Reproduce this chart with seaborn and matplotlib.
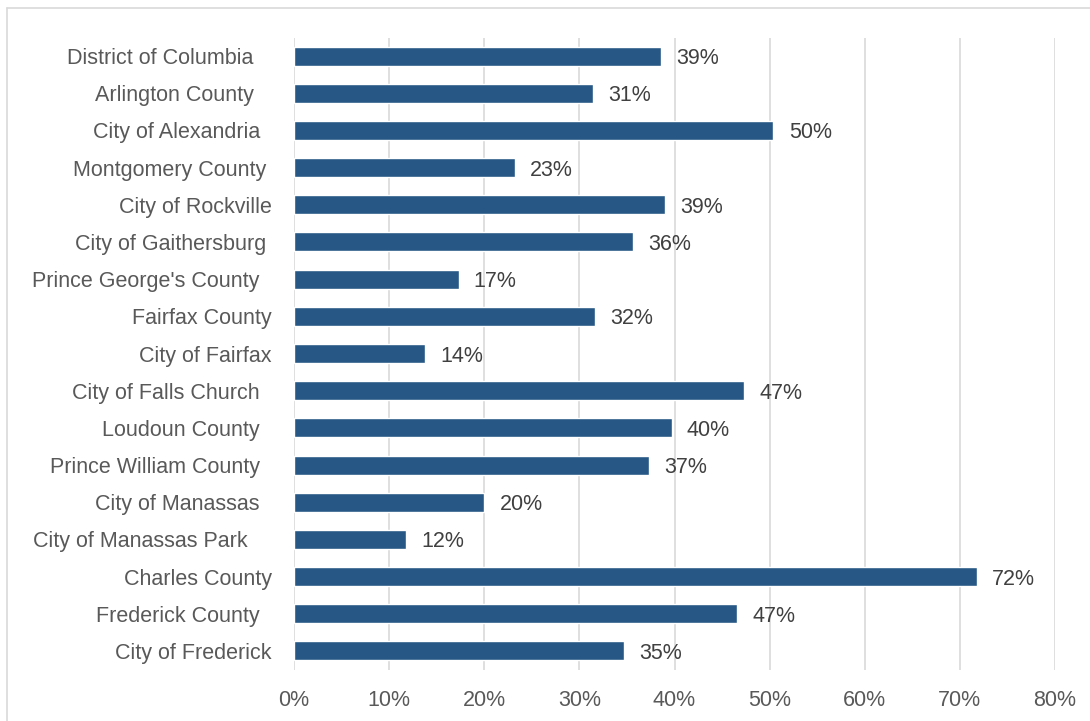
import matplotlib
matplotlib.use("Agg")
import matplotlib.pyplot as plt
import seaborn as sns
import pandas as pd
from matplotlib.lines import Line2D

# labels keep the trailing spaces from the source sheet (ragged right edge)
places = [
    "District of Columbia   ",
    "Arlington County   ",
    "City of Alexandria  ",
    "Montgomery County ",
    "City of Rockville",
    "City of Gaithersburg ",
    "Prince George's County  ",
    "Fairfax County",
    "City of Fairfax",
    "City of Falls Church  ",
    "Loudoun County  ",
    "Prince William County  ",
    "City of Manassas  ",
    "City of Manassas Park    ",
    "Charles County",
    "Frederick County  ",
    "City of Frederick",
]
shares = [38.6, 31.4, 50.4, 23.2, 39.0, 35.6, 17.3, 31.6, 13.8,
          47.3, 39.7, 37.3, 20.0, 11.8, 71.8, 46.6, 34.7]
ticks = [0, 10, 20, 30, 40, 50, 60, 70, 80]

df = pd.DataFrame({"place": places, "share": shares})

sns.set_style("white")
plt.rcParams["font.family"] = ["Liberation Sans", "DejaVu Sans"]

fig = plt.figure(figsize=(10.9, 7.21), dpi=100)
ax = fig.add_axes([294 / 1090, 1 - 669.5 / 721, (1055 - 294) / 1090, 632 / 721])

sns.barplot(data=df, x="share", y="place", color="#265785", width=0.51,
            saturation=1, ax=ax, orient="h")

ax.set_xlim(0, 80)
ax.set_ylim(len(places) - 0.5, -0.5)
ax.set_xticks(ticks)
ax.set_xticklabels([f"{t}%" for t in ticks])
ax.xaxis.grid(True, color="#d9d9d9", linewidth=1.2)
ax.set_axisbelow(True)
ax.set_xlabel("")
ax.set_ylabel("")
for s in ax.spines.values():
    s.set_visible(False)
ax.tick_params(axis="y", length=0, pad=16, labelsize=15.5, labelcolor="#595959")
ax.tick_params(axis="x", length=0, pad=15, labelsize=15.5, labelcolor="#595959")

for i, v in enumerate(shares):
    ax.annotate(f"{v:.0f}%", (v, i), xytext=(11, 0), textcoords="offset points",
                va="center_baseline", ha="left", fontsize=15.5, color="#404040")

# chart frame like the spreadsheet export
fig.add_artist(Line2D([7 / 1090, 1.01], [1 - 7.5 / 721] * 2, transform=fig.transFigure,
                      color="#d9d9d9", linewidth=1.2))
fig.add_artist(Line2D([7 / 1090] * 2, [-0.01, 1 - 7.5 / 721], transform=fig.transFigure,
                      color="#d9d9d9", linewidth=1.2))

fig.savefig("out.png", dpi=100)
